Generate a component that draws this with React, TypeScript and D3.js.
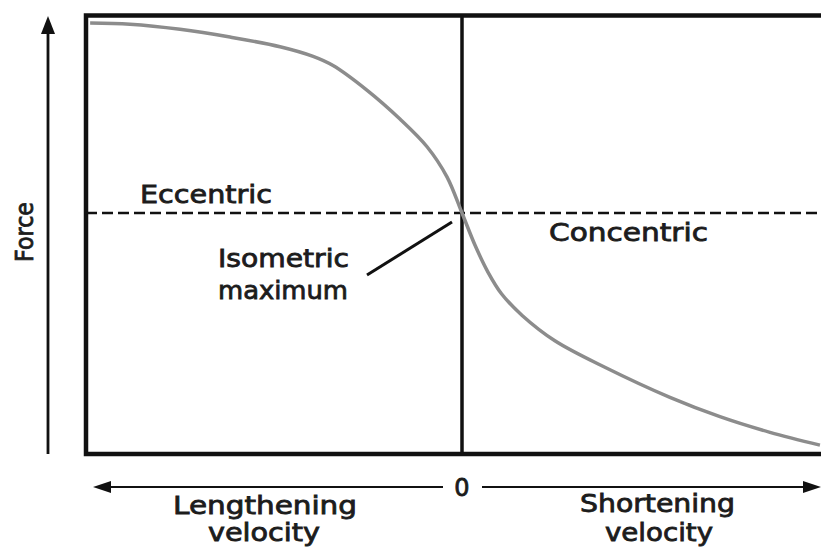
import React from "react";
import * as d3 from "d3";

// Force–velocity curve: velocity (negative = lengthening, positive = shortening), force relative to isometric max
const velocity = [-0.989, -0.883, -0.75, -0.617, -0.484, -0.396, -0.343, -0.253, -0.165, -0.093, -0.04, 0, 0.035, 0.069, 0.105, 0.16, 0.247, 0.38, 0.553, 0.686, 0.819, 0.952];
const force = [1.788, 1.783, 1.762, 1.73, 1.69, 1.65, 1.612, 1.51, 1.39, 1.275, 1.15, 1.0, 0.865, 0.755, 0.665, 0.575, 0.47, 0.36, 0.235, 0.155, 0.09, 0.037];
const forceMax = 1.82;
const isometricForce = 1.0;

const labels = {
  yAxis: "Force",
  zero: "0",
  eccentric: "Eccentric",
  concentric: "Concentric",
  iso1: "Isometric",
  iso2: "maximum",
  len1: "Lengthening",
  len2: "velocity",
  sh1: "Shortening",
  sh2: "velocity",
};

const W = 821;
const H = 549;

export default function App() {
  const x = d3.scaleLinear().domain([-1, 1]).range([86, 838]);
  const y = d3.scaleLinear().domain([0, 1]).range([454, 213]);

  const pts: [number, number][] = velocity.map((v, i) => [v, force[i]]);
  const line = d3
    .line<[number, number]>()
    .x((d) => x(d[0]))
    .y((d) => y(d[1]))
    .curve(d3.curveCatmullRom.alpha(0.5));

  const font = "'DejaVu Sans', 'Open Sans', sans-serif";
  const ink = "#111";
  const textStyle = { fontFamily: font, fontSize: 24, fill: "#1c1c1c", stroke: "#1c1c1c", strokeWidth: 0.8 } as React.CSSProperties;

  const x0 = x(0);
  const yTop = y(forceMax);
  const yBot = y(0);
  const arrowY = 487;

  return (
    <svg width={W} height={H} style={{ position: "absolute", left: 0, top: 0, background: "#fff" }}>
      {/* frame */}
      <path d={`M${x(1)},${yTop} L${x(-1)},${yTop} L${x(-1)},${yBot} L${x(1)},${yBot}`} fill="none" stroke={ink} strokeWidth={4.5} />
      {/* zero velocity vertical */}
      <line x1={x0} x2={x0} y1={yTop} y2={yBot} stroke={ink} strokeWidth={3.5} />
      {/* isometric dashed line */}
      <line x1={x(-1)} x2={x(1)} y1={y(isometricForce)} y2={y(isometricForce)} stroke={ink} strokeWidth={2.5} strokeDasharray="11,5" />
      {/* curve */}
      <path d={line(pts) || ""} fill="none" stroke="#8c8c8c" strokeWidth={3.5} />

      {/* y axis arrow */}
      <line x1={48} x2={48} y1={yBot} y2={30} stroke={ink} strokeWidth={2.8} />
      <path d={`M48,16 L41,34 L55,34 Z`} fill={ink} />
      <text transform={`translate(33,232) rotate(-90)`} textAnchor="middle" style={textStyle} textLength={60} lengthAdjust="spacingAndGlyphs">
        {labels.yAxis}
      </text>

      {/* bottom velocity arrow */}
      <line x1={108} x2={443} y1={arrowY} y2={arrowY} stroke={ink} strokeWidth={2} />
      <path d={`M93,${arrowY} L111,${arrowY - 6} L111,${arrowY + 6} Z`} fill={ink} />
      <line x1={482} x2={806} y1={arrowY} y2={arrowY} stroke={ink} strokeWidth={2} />
      <path d={`M821,${arrowY} L803,${arrowY - 6} L803,${arrowY + 6} Z`} fill={ink} />
      <text x={x0} y={496} textAnchor="middle" style={textStyle}>
        {labels.zero}
      </text>

      {/* labels */}
      <text x={140} y={203} style={textStyle} textLength={132} lengthAdjust="spacingAndGlyphs">
        {labels.eccentric}
      </text>
      <text x={549} y={241} style={textStyle} textLength={159} lengthAdjust="spacingAndGlyphs">
        {labels.concentric}
      </text>
      <text x={218} y={267} style={textStyle} textLength={131} lengthAdjust="spacingAndGlyphs">
        {labels.iso1}
      </text>
      <text x={218} y={299} style={textStyle} textLength={130} lengthAdjust="spacingAndGlyphs">
        {labels.iso2}
      </text>
      <line x1={367} y1={275} x2={452} y2={222} stroke={ink} strokeWidth={3} />

      <text x={173} y={514} style={textStyle} textLength={184} lengthAdjust="spacingAndGlyphs">
        {labels.len1}
      </text>
      <text x={208} y={541} style={textStyle} textLength={112} lengthAdjust="spacingAndGlyphs">
        {labels.len2}
      </text>
      <text x={580} y={512} style={textStyle} textLength={155} lengthAdjust="spacingAndGlyphs">
        {labels.sh1}
      </text>
      <text x={605} y={541} style={textStyle} textLength={108} lengthAdjust="spacingAndGlyphs">
        {labels.sh2}
      </text>
    </svg>
  );
}
